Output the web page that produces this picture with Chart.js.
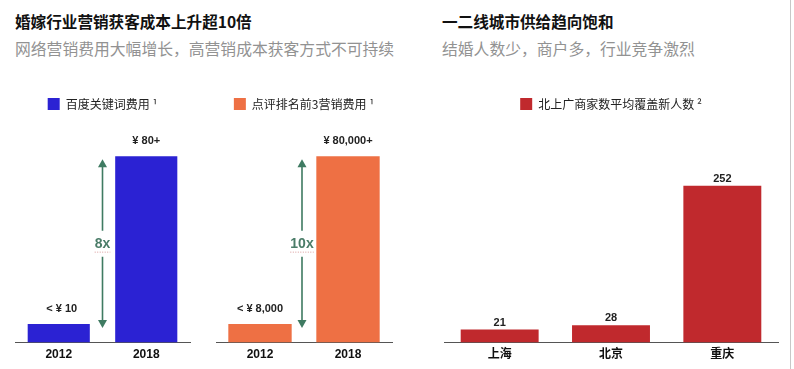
<!DOCTYPE html>
<html>
<head>
<meta charset="utf-8">
<script src="https://cdn.jsdelivr.net/npm/chart.js@4/dist/chart.umd.min.js"></script>
<style>
  body { margin: 0; width: 794px; height: 369px; background: #fff; position: relative; overflow: hidden;
         font-family: "Noto Sans CJK SC", "Noto Sans", sans-serif; }
  .title { position: absolute; font-size: 15.6px; font-weight: bold; color: #111; white-space: nowrap; }
  .sub { position: absolute; font-size: 15.8px; color: #929292; white-space: nowrap; }
  .box { position: absolute; top: 85px; height: 284px; }
  .edge { position: absolute; left: 790px; top: 0; width: 1px; height: 369px; background: #c8c8c8; }
</style>
</head>
<body>
<div class="title" style="left:15px; top:10px;">婚嫁行业营销获客成本上升超10倍</div>
<div class="sub" style="left:15px; top:37px;">网络营销费用大幅增长，高营销成本获客方式不可持续</div>
<div class="title" style="left:442px; top:10px;">一二线城市供给趋向饱和</div>
<div class="sub" style="left:442px; top:37px;">结婚人数少，商户多，行业竞争激烈</div>
<div class="edge"></div>

<div class="box" style="left:0; width:200px;"><canvas id="c1"></canvas></div>
<div class="box" style="left:200px; width:200px;"><canvas id="c2"></canvas></div>
<div class="box" style="left:430px; width:360px;"><canvas id="c3"></canvas></div>

<script>
/* ---- данные ---- */
const costYears = ["2012", "2018"];

const baiduName = "百度关键词费用 ¹";
const baiduCost = [8, 80];
const baiduLabels = ["< ¥ 10", "¥ 80+"];

const dianpingName = "点评排名前3营销费用 ¹";
const dianpingCost = [8000, 80000];
const dianpingLabels = ["< ¥ 8,000", "¥ 80,000+"];

const cities = ["上海", "北京", "重庆"];
const coverName = "北上广商家数平均覆盖新人数 ²";
const newlywedsPerShop = [21, 28, 252];
const coverLabels = ["21", "28", "252"];

const growthText = ["8x", "10x"];

const NUM_FONT = '"Liberation Sans", "Noto Sans CJK SC", sans-serif';
const CJK_FONT = '"Noto Sans CJK SC", "Liberation Sans", sans-serif';

/* ---- подписи над столбцами ---- */
const valueLabels = {
  id: "valueLabels",
  afterDatasetsDraw(chart, args, opts) {
    const ctx = chart.ctx;
    const meta = chart.getDatasetMeta(0);
    ctx.save();
    ctx.font = "bold 11px " + NUM_FONT;
    ctx.fillStyle = "#222";
    ctx.textAlign = "center";
    ctx.textBaseline = "middle";
    meta.data.forEach((bar, i) => {
      ctx.fillText(opts.texts[i], bar.x + (opts.dx ? opts.dx[i] : 0), bar.y - opts.offset);
    });
    ctx.restore();
  }
};

/* ---- стрелка роста между столбцами ---- */
const growthArrow = {
  id: "growthArrow",
  afterDatasetsDraw(chart, args, opts) {
    if (!opts.text) return;
    const ctx = chart.ctx;
    const x = chart.scales.x;
    const y = chart.scales.y;
    const data = chart.data.datasets[0].data;
    const ax = (x.getPixelForValue(0) + x.getPixelForValue(1)) / 2 + opts.dx;
    const top = y.getPixelForValue(data[1]) + 3;
    const bot = y.getPixelForValue(data[0]) + 4;
    const mid = (top + bot) / 2;
    const col = "#3f7b62";
    ctx.save();
    ctx.strokeStyle = col;
    ctx.fillStyle = col;
    ctx.lineWidth = 1.6;
    ctx.beginPath();
    ctx.moveTo(ax, top + 6); ctx.lineTo(ax, mid - 13);
    ctx.moveTo(ax, mid + 13); ctx.lineTo(ax, bot - 6);
    ctx.stroke();
    ctx.beginPath();
    ctx.moveTo(ax, top); ctx.lineTo(ax - 4.5, top + 8); ctx.lineTo(ax + 4.5, top + 8); ctx.closePath();
    ctx.fill();
    ctx.beginPath();
    ctx.moveTo(ax, bot); ctx.lineTo(ax - 4.5, bot - 8); ctx.lineTo(ax + 4.5, bot - 8); ctx.closePath();
    ctx.fill();
    ctx.font = "bold 14px " + NUM_FONT;
    ctx.fillStyle = "#4a7c68";
    ctx.textAlign = "center";
    ctx.textBaseline = "middle";
    ctx.fillText(opts.text, ax, mid);
    // красное пунктирное подчёркивание, как в исходнике
    const w = ctx.measureText(opts.text).width;
    ctx.strokeStyle = "#d99a9a";
    ctx.lineWidth = 1;
    ctx.setLineDash([1, 1.5]);
    ctx.beginPath();
    ctx.moveTo(ax - w / 2, mid + 8.5); ctx.lineTo(ax + w / 2, mid + 8.5);
    ctx.stroke();
    ctx.restore();
  }
};

function makeBar(id, labels, name, values, color, yMax, pad, barPct, plug) {
  return new Chart(document.getElementById(id), {
    type: "bar",
    data: {
      labels,
      datasets: [{
        label: name, data: values, backgroundColor: color, borderWidth: 0,
        barPercentage: barPct, categoryPercentage: 1
      }]
    },
    options: {
      responsive: true, maintainAspectRatio: false, animation: false,
      layout: { padding: pad },
      plugins: {
        legend: {
          position: "top",
          labels: {
            boxWidth: 12, boxHeight: 12, padding: 10, color: "#222",
            font: { size: 12, family: CJK_FONT }
          }
        },
        tooltip: { enabled: false },
        valueLabels: plug.labels,
        growthArrow: plug.arrow
      },
      scales: {
        x: {
          grid: { display: false, drawTicks: false },
          border: { display: true, color: "#555", width: 1 },
          ticks: { color: "#111", padding: 5, font: { size: 12, weight: "bold", family: NUM_FONT } }
        },
        y: { display: false, min: 0, max: yMax }
      }
    },
    plugins: [valueLabels, growthArrow]
  });
}

makeBar("c1", costYears, baiduName, baiduCost, "#2b22d3", 95.6,
  { top: 3, left: 15, right: 10, bottom: 2 }, 0.71,
  { labels: { texts: baiduLabels, offset: 15, dx: [3, 0] }, arrow: { text: growthText[0], dx: 0 } });

makeBar("c2", costYears, dianpingName, dianpingCost, "#ee7044", 95600,
  { top: 3, left: 16, right: 8, bottom: 2 }, 0.72,
  { labels: { texts: dianpingLabels, offset: 15, dx: [0, 0] }, arrow: { text: growthText[1], dx: -2 } });

makeBar("c3", cities, coverName, newlywedsPerShop, "#c0292d", 357.6,
  { top: 3, left: 14, right: 12, bottom: 2 }, 0.70,
  { labels: { texts: coverLabels, offset: 7, dx: [0, 0, 0] }, arrow: { text: "" } });
</script>
</body>
</html>
